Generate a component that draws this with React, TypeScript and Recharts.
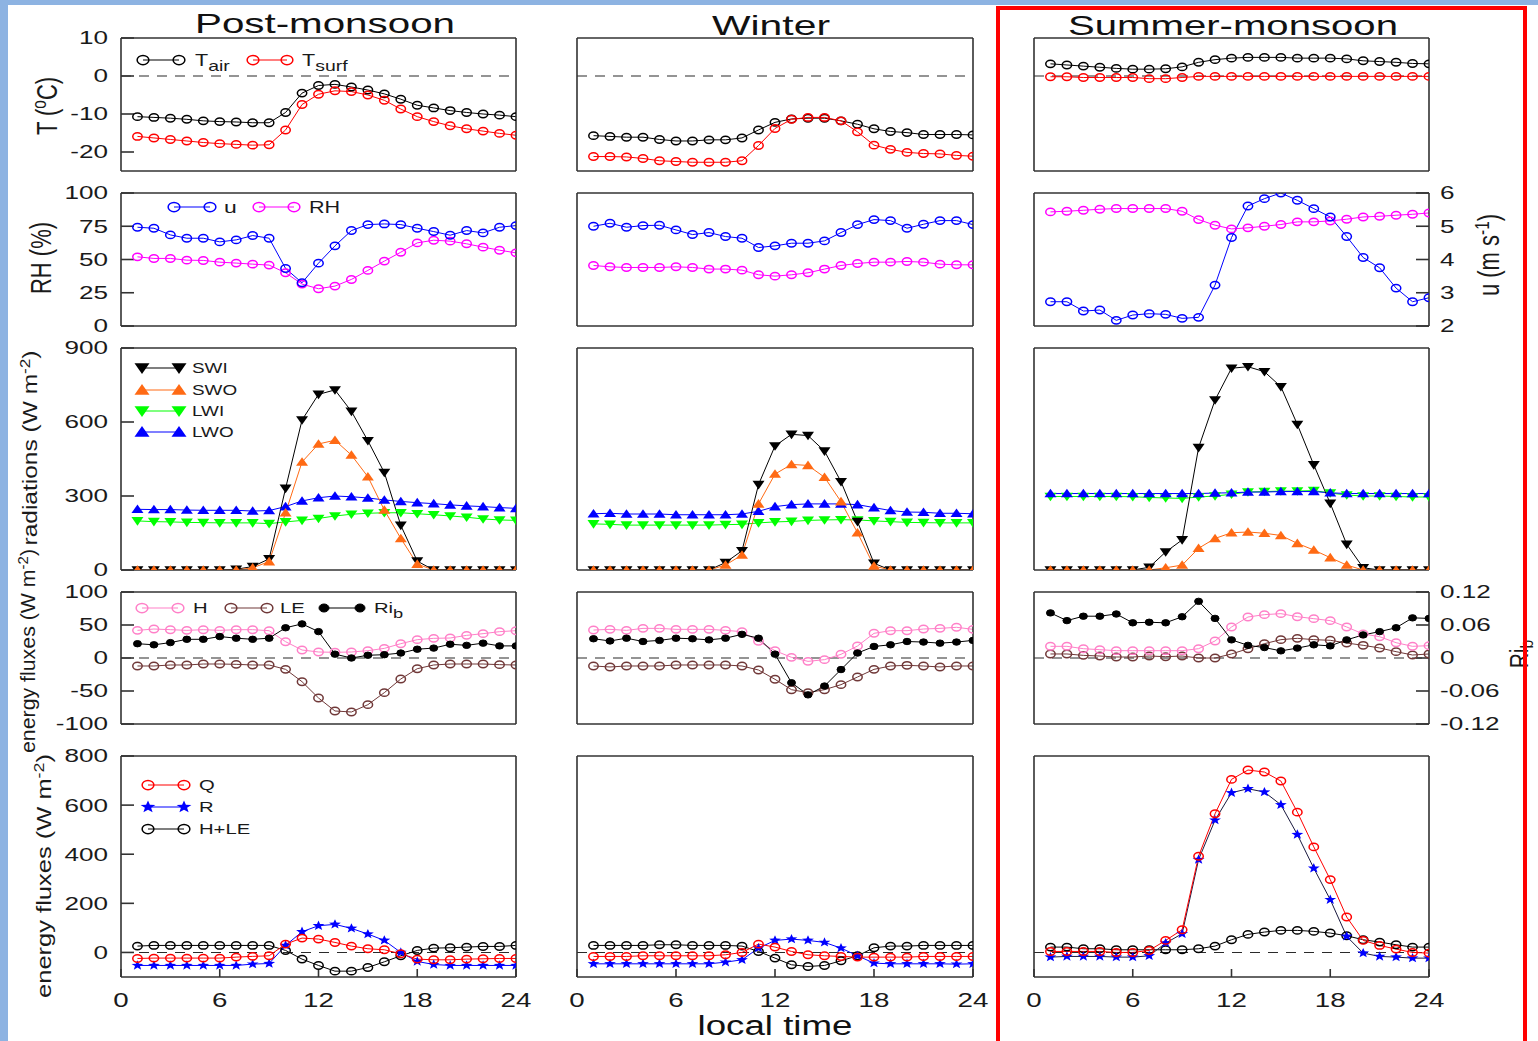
import React from 'react';
import { LineChart, Line, XAxis, YAxis, ReferenceLine } from 'recharts';

const FONT = '"Liberation Sans", Arial, Helvetica, sans-serif';

const HOURS = [1, 2, 3, 4, 5, 6, 7, 8, 9, 10, 11, 12, 13, 14, 15, 16, 17, 18, 19, 20, 21, 22, 23, 24];
const TITLES = ['Post-monsoon', 'Winter', 'Summer-monsoon'];

// ---- Post-monsoon ----
const PM_TAIR = [-10.7, -10.9, -11.1, -11.4, -11.8, -12.0, -12.1, -12.3, -12.3, -9.6, -4.5, -2.5, -2.2, -2.9, -3.7, -4.7, -6.1, -7.7, -8.4, -9.1, -9.6, -10.0, -10.3, -10.7];
const PM_TSURF = [-15.9, -16.3, -16.7, -17.1, -17.5, -17.8, -18.0, -18.2, -18.1, -14.2, -7.5, -4.8, -3.9, -4.1, -5.0, -6.4, -8.7, -10.7, -12.0, -13.1, -13.9, -14.5, -15.1, -15.6];
const PM_U = [4.97, 4.94, 4.74, 4.64, 4.64, 4.53, 4.59, 4.72, 4.64, 3.73, 3.3, 3.89, 4.41, 4.87, 5.05, 5.07, 5.05, 4.94, 4.84, 4.73, 4.87, 4.8, 4.97, 5.02];
const PM_RH = [52, 50.8, 50.8, 49.5, 49.3, 48, 47.3, 46.5, 45.8, 40, 31.5, 28, 30, 35, 41.8, 48.8, 55.5, 62.5, 64.5, 63.8, 61.8, 59.3, 57, 55];
const PM_SWI = [0, 0, 0, 0, 0, 0, 3, 14, 45, 331, 608, 712, 730, 643, 524, 395, 181, 36, 0, 0, 0, 0, 0, 0];
const PM_SWO = [0, 0, 0, 0, 0, 0, 0, 9, 34, 232, 438, 511, 526, 466, 378, 243, 128, 24, 0, 0, 0, 0, 0, 0];
const PM_LWI = [199, 196, 195, 193, 192, 191, 191, 191, 188, 195, 201, 209, 219, 226, 230, 232, 232, 228, 224, 219, 214, 207, 203, 201];
const PM_LWO = [246, 245, 245, 243, 242, 242, 242, 239, 241, 257, 280, 293, 300, 297, 292, 284, 278, 273, 269, 264, 260, 257, 253, 250];
const PM_H = [41.9, 43.9, 42.9, 41.9, 42.9, 41.9, 42.9, 42.9, 41.4, 24.7, 12.1, 9.1, 8.6, 9.1, 11.1, 14.6, 21.7, 27.8, 29.8, 30.3, 34.3, 36.9, 39.9, 41.4];
const PM_LE = [-12.1, -12.1, -10.6, -10.6, -9.1, -9.1, -9.6, -10.6, -10.6, -17.2, -35.9, -60.6, -80.3, -81.8, -70.7, -52.5, -31.8, -16.2, -10.6, -9.1, -9.1, -9.1, -10.1, -10.6];
const PM_RIB = [0.026, 0.024, 0.028, 0.034, 0.034, 0.039, 0.036, 0.034, 0.036, 0.055, 0.062, 0.048, 0.007, 0.0, 0.005, 0.006, 0.009, 0.016, 0.018, 0.025, 0.023, 0.027, 0.022, 0.022];
const PM_Q = [-24.5, -23, -23, -23, -23, -23, -19, -16, -13.6, 34, 58.5, 54.4, 40.8, 25.9, 15, 10.9, -5.4, -27.2, -30, -30, -27.2, -25.9, -24.5, -24.5];
const PM_R = [-53, -53, -53, -53, -53, -53, -53, -47.6, -45, 28.6, 84.4, 108.8, 114.3, 98, 74.8, 49, 0, -36.7, -49, -53, -53, -53, -53, -53];
const PM_HLE = [25.9, 28.6, 28.6, 28.6, 28.6, 28.6, 28.6, 28.6, 28.6, 8.2, -27.2, -53, -76.2, -76.2, -61.2, -38.1, -13.6, 8.2, 17.7, 19, 21.8, 24.5, 24.5, 28.6];

// ---- Winter ----
const W_TAIR = [-15.7, -15.9, -16.1, -16.1, -16.7, -17.1, -17.1, -16.8, -16.8, -16.3, -14.2, -12.2, -11.3, -11.1, -11.1, -11.8, -12.7, -13.9, -14.6, -14.9, -15.4, -15.4, -15.4, -15.5];
const W_TSURF = [-21.2, -21.2, -21.3, -21.7, -22.3, -22.5, -22.7, -22.7, -22.7, -22.3, -18.3, -13.8, -11.4, -10.9, -10.9, -11.8, -14.7, -18.2, -19.3, -20.1, -20.4, -20.5, -20.9, -21.1];
const W_U = [5.0, 5.09, 4.97, 5.02, 5.03, 4.89, 4.75, 4.81, 4.69, 4.64, 4.36, 4.41, 4.49, 4.49, 4.56, 4.81, 5.05, 5.2, 5.17, 4.94, 5.06, 5.17, 5.17, 5.05];
const W_RH = [45.5, 44.5, 44, 44, 44, 44.5, 44, 42.8, 42.8, 42, 38.5, 37.5, 38.5, 40, 42.8, 45.5, 47, 48, 48, 48.5, 48, 46.5, 46, 46];
const W_SWI = [0, 0, 0, 0, 0, 0, 0, 0, 30, 78, 346, 503, 550, 545, 482, 358, 196, 27, 0, 0, 0, 0, 0, 0];
const W_SWO = [0, 0, 0, 0, 0, 0, 0, 0, 20, 61, 268, 389, 428, 424, 376, 277, 151, 16, 0, 0, 0, 0, 0, 0];
const W_LWI = [187, 185, 182, 182, 182, 182, 182, 182, 184, 185, 191, 195, 197, 201, 203, 204, 203, 199, 196, 193, 192, 191, 191, 191];
const W_LWO = [228, 230, 227, 227, 227, 224, 224, 224, 224, 227, 238, 257, 265, 268, 268, 268, 265, 253, 241, 235, 234, 230, 230, 228];
const W_H = [42.4, 43.4, 41.9, 44.9, 44.9, 43.4, 43.4, 43.4, 41.9, 39.9, 25.3, 11.1, 1.0, -5.1, -2.5, 5.6, 18.2, 37.4, 41.4, 41.4, 43.9, 44.9, 46.5, 43.4];
const W_LE = [-12.1, -13.6, -12.1, -12.1, -12.1, -10.6, -10.6, -10.6, -10.6, -12.1, -18.2, -32.3, -48, -52.5, -48, -40.4, -28.8, -17.2, -12.1, -11.1, -12.1, -13.6, -12.1, -12.1];
const W_RIB = [0.035, 0.031, 0.036, 0.03, 0.032, 0.036, 0.035, 0.033, 0.036, 0.043, 0.036, 0.007, -0.045, -0.067, -0.051, -0.021, 0.009, 0.021, 0.024, 0.03, 0.029, 0.027, 0.029, 0.032];
const W_Q = [-16.3, -16.3, -16.3, -13.6, -13.6, -13.6, -13.6, -13.6, -9.5, 0, 34, 21.8, 4.1, -9.5, -13.6, -16.3, -19, -19, -19, -19, -16.3, -16.3, -16.3, -16.3];
const W_R = [-46.3, -46.3, -46.3, -46.3, -46.3, -46.3, -46.3, -46.3, -39.5, -30, 17.7, 49, 54.4, 49, 40.8, 17.7, -13.6, -43.5, -46.3, -46.3, -46.3, -46.3, -47.6, -46.3];
const W_HLE = [28.6, 28.6, 28.6, 28.6, 31.3, 31.3, 28.6, 28.6, 28.6, 25.9, 4.1, -23.1, -50.3, -57.1, -53, -34, -13.6, 19, 25.9, 25.9, 28.6, 28.6, 28.6, 28.6];

// ---- Summer-monsoon ----
const S_TAIR = [3.2, 2.9, 2.6, 2.3, 2.0, 1.8, 1.8, 1.9, 2.4, 3.6, 4.3, 4.7, 4.9, 4.9, 4.9, 4.7, 4.7, 4.7, 4.5, 4.0, 3.8, 3.6, 3.3, 3.2];
const S_TSURF = [-0.2, -0.2, -0.4, -0.4, -0.4, -0.4, -0.7, -0.7, -0.4, -0.1, -0.1, -0.1, -0.1, -0.1, -0.1, -0.1, -0.1, -0.1, -0.1, -0.1, -0.1, -0.1, -0.1, -0.1];
const S_U = [2.73, 2.73, 2.45, 2.48, 2.17, 2.33, 2.37, 2.35, 2.23, 2.26, 3.23, 4.66, 5.61, 5.83, 6.0, 5.78, 5.53, 5.28, 4.69, 4.06, 3.75, 3.14, 2.73, 2.85];
const S_RH = [85.8, 86.3, 87, 87.8, 88.3, 88.3, 88.3, 88.3, 86.3, 80, 75.8, 73, 73.8, 75, 76.3, 78.3, 78.3, 79, 80.3, 82, 82.5, 83.3, 84, 85];
const S_SWI = [0, 0, 0, 0, 0, 0, 11, 73, 122, 496, 689, 818, 824, 804, 743, 590, 426, 270, 104, 9, 0, 0, 0, 0];
const S_SWO = [0, 0, 0, 0, 0, 0, 0, 9, 20, 88, 128, 151, 154, 149, 140, 108, 81, 50, 20, 0, 0, 0, 0, 0];
const S_LWI = [298, 298, 298, 298, 298, 297, 294, 292, 290, 296, 300, 307, 316, 318, 320, 320, 322, 312, 304, 300, 300, 298, 296, 296];
const S_LWO = [310, 310, 310, 310, 310, 310, 310, 310, 310, 310, 312, 313, 316, 316, 318, 318, 318, 313, 310, 310, 310, 310, 310, 310];
const S_H = [17.7, 17.7, 14.1, 12.6, 11.1, 11.1, 11.1, 11.1, 11.1, 14.1, 25.8, 47, 62.1, 65.7, 67.2, 62.6, 59.6, 56.6, 47, 36.4, 32.3, 23.2, 17.7, 18.7];
const S_LE = [6.1, 6.1, 4.0, 3.0, 1.5, 1.5, 3.0, 2.0, 3.0, 0, 0, 6.1, 14.1, 21.7, 27.8, 29.8, 27.8, 26.8, 22.7, 19.2, 15.2, 9.6, 4.5, 6.1];
const S_RIB = [0.082, 0.068, 0.076, 0.076, 0.08, 0.064, 0.065, 0.064, 0.075, 0.103, 0.072, 0.033, 0.023, 0.019, 0.013, 0.018, 0.024, 0.022, 0.033, 0.042, 0.048, 0.055, 0.073, 0.072];
const S_Q = [4.1, 4.1, 4.1, 4.1, 0, 0, 8.2, 49, 92.5, 391.8, 564.6, 704.8, 742.9, 734.7, 698, 571.4, 429.9, 296.6, 144.2, 49, 28.6, 13.6, 0, -2.7];
const S_R = [-19, -16.3, -16.3, -16.3, -19, -19, -13.6, 38.1, 76.2, 378.2, 538.8, 650.3, 666.7, 653.1, 601.4, 480.3, 342.9, 215, 65.3, -2.7, -16.3, -19, -23.1, -23.1];
const S_HLE = [21.8, 21.8, 15, 15, 10.9, 10.9, 10.9, 10.9, 10.9, 15, 25.9, 51.7, 73.5, 83, 89.8, 89.8, 85.7, 78.9, 68, 51.7, 42.2, 31.3, 21.8, 21.8];

const SEASONS: Record<string, number[]>[] = [
  { tair: PM_TAIR, tsurf: PM_TSURF, u: PM_U, rh: PM_RH, swi: PM_SWI, swo: PM_SWO, lwi: PM_LWI, lwo: PM_LWO, sh: PM_H, le: PM_LE, rib: PM_RIB, q: PM_Q, r: PM_R, hle: PM_HLE },
  { tair: W_TAIR, tsurf: W_TSURF, u: W_U, rh: W_RH, swi: W_SWI, swo: W_SWO, lwi: W_LWI, lwo: W_LWO, sh: W_H, le: W_LE, rib: W_RIB, q: W_Q, r: W_R, hle: W_HLE },
  { tair: S_TAIR, tsurf: S_TSURF, u: S_U, rh: S_RH, swi: S_SWI, swo: S_SWO, lwi: S_LWI, lwo: S_LWO, sh: S_H, le: S_LE, rib: S_RIB, q: S_Q, r: S_R, hle: S_HLE },
];

const BLACK = '#000000', RED = '#ff0000', BLUE = '#0000ff', MAGENTA = '#ff00ff';
const ORANGE = '#ff6a14', GREEN = '#00ff00', PINK = '#ff80c8', BROWN = '#703838';

type Mark = 'o' | 'f' | 'up' | 'dn' | 'star';
type Spec = { key: string; color: string; mark: Mark; axis: 'l' | 'r' };

const ROW_SERIES: Spec[][] = [
  [{ key: 'tair', color: BLACK, mark: 'o', axis: 'l' }, { key: 'tsurf', color: RED, mark: 'o', axis: 'l' }],
  [{ key: 'rh', color: MAGENTA, mark: 'o', axis: 'l' }, { key: 'u', color: BLUE, mark: 'o', axis: 'r' }],
  [{ key: 'lwi', color: GREEN, mark: 'dn', axis: 'l' }, { key: 'lwo', color: BLUE, mark: 'up', axis: 'l' }, { key: 'swi', color: BLACK, mark: 'dn', axis: 'l' }, { key: 'swo', color: ORANGE, mark: 'up', axis: 'l' }],
  [{ key: 'le', color: BROWN, mark: 'o', axis: 'l' }, { key: 'sh', color: PINK, mark: 'o', axis: 'l' }, { key: 'rib', color: BLACK, mark: 'f', axis: 'r' }],
  [{ key: 'hle', color: BLACK, mark: 'o', axis: 'l' }, { key: 'r', color: BLUE, mark: 'star', axis: 'l' }, { key: 'q', color: RED, mark: 'o', axis: 'l' }],
];

// the R line is drawn dark in the summer panel
const LINE_OVERRIDE: Record<number, Record<string, string>> = { 2: { r: '#1a1a40' } };

const COLS = [{ left: 121, right: 516 }, { left: 577, right: 973 }, { left: 1034, right: 1429 }];
const ROWS = [
  { top: 38, bottom: 171, dom: [-25, 10], ticks: [-20, -10, 0, 10], zero: true, rDom: null, rTicks: null },
  { top: 193, bottom: 326, dom: [0, 100], ticks: [0, 25, 50, 75, 100], zero: false, rDom: [2, 6], rTicks: [2, 3, 4, 5, 6] },
  { top: 348, bottom: 570, dom: [0, 900], ticks: [0, 300, 600, 900], zero: false, rDom: null, rTicks: null },
  { top: 592, bottom: 724, dom: [-100, 100], ticks: [-100, -50, 0, 50, 100], zero: true, rDom: [-0.12, 0.12], rTicks: [-0.12, -0.06, 0, 0.06, 0.12] },
  { top: 756, bottom: 977, dom: [-100, 800], ticks: [0, 200, 400, 600, 800], zero: true, rDom: null, rTicks: null },
];

const PADL = 80, PADR = 90, PADT = 12, PADB = 45;
const AX = { stroke: '#333333', strokeWidth: 1.6 };

function starPts(cx: number, cy: number, R: number, sx: number) {
  const pts: string[] = [];
  for (let k = 0; k < 10; k++) {
    const a = -Math.PI / 2 + (k * Math.PI) / 5;
    const r = k % 2 === 0 ? R : R * 0.42;
    pts.push(`${(cx + r * Math.cos(a) * sx).toFixed(1)},${(cy + r * Math.sin(a)).toFixed(1)}`);
  }
  return pts.join(' ');
}

function Marker({ kind, cx, cy, color, big }: { kind: Mark; cx: number; cy: number; color: string; big?: boolean }) {
  const k = big ? 1.25 : 1;
  if (cx == null || cy == null || isNaN(cx) || isNaN(cy)) return null;
  switch (kind) {
    case 'o':
      return <ellipse cx={cx} cy={cy} rx={4.7 * k} ry={3.7 * k} fill="none" stroke={color} strokeWidth={1.5} />;
    case 'f':
      return <ellipse cx={cx} cy={cy} rx={4 * k} ry={3.2 * k} fill={color} stroke={color} strokeWidth={1} />;
    case 'up':
      return <polygon points={`${cx - 6 * k},${cy + 3.8 * k} ${cx + 6 * k},${cy + 3.8 * k} ${cx},${cy - 4.8 * k}`} fill={color} />;
    case 'dn':
      return <polygon points={`${cx - 6 * k},${cy - 3.8 * k} ${cx + 6 * k},${cy - 3.8 * k} ${cx},${cy + 4.8 * k}`} fill={color} />;
    default:
      return <polygon points={starPts(cx, cy, 5.2 * k, 1.2)} fill={color} />;
  }
}

const YTickL = (p: any) => (
  <text transform={`translate(${p.x},${p.y}) scale(1.45,1)`} textAnchor="end" dy="0.36em" fontSize={18} fontFamily={FONT} fill="#1a1a1a">
    {p.payload.value}
  </text>
);
const YTickR = (p: any) => (
  <text transform={`translate(${p.x},${p.y}) scale(1.45,1)`} textAnchor="start" dy="0.36em" fontSize={18} fontFamily={FONT} fill="#1a1a1a">
    {p.payload.value}
  </text>
);
const XTick = (p: any) => (
  <text transform={`translate(${p.x},${p.y + 30}) scale(1.32,1)`} textAnchor="middle" fontSize={21} fontFamily={FONT} fill="#1a1a1a">
    {p.payload.value}
  </text>
);

function Panel({ col, row }: { col: number; row: number }) {
  const C = COLS[col];
  const R = ROWS[row];
  const pw = C.right - C.left;
  const ph = R.bottom - R.top;
  const season = SEASONS[col];
  const series = ROW_SERIES[row];
  const data = HOURS.map((hr, i) => {
    const o: Record<string, number> = { hr };
    series.forEach((sp) => {
      o[sp.key] = season[sp.key][i];
    });
    return o;
  });
  const rDom = R.rDom || R.dom;
  const rTicks = R.rTicks || R.ticks;
  const showRight = col === 2 && R.rDom != null;
  return (
    <div style={{ position: 'absolute', left: C.left - PADL, top: R.top - PADT }}>
      <LineChart width={pw + PADL + PADR} height={ph + PADT + PADB} data={data} margin={{ top: 0, right: 0, bottom: 0, left: 0 }}>
        <XAxis xAxisId="b" type="number" dataKey="hr" domain={[0, 24]} allowDataOverflow ticks={[0, 6, 12, 18, 24]} interval={0}
          height={PADB} tickSize={-8} tickMargin={8} tick={row === 4 ? XTick : false} axisLine={AX} tickLine={AX} />
        <XAxis xAxisId="t" orientation="top" type="number" dataKey="hr" domain={[0, 24]} allowDataOverflow ticks={[0, 6, 12, 18, 24]} interval={0}
          height={PADT} tickSize={-8} tick={false} axisLine={AX} tickLine={AX} />
        <YAxis yAxisId="l" type="number" domain={R.dom} allowDataOverflow ticks={R.ticks} interval={0} width={PADL}
          tickSize={-13} tickMargin={26} tick={col === 0 ? YTickL : false} axisLine={AX} tickLine={AX} />
        <YAxis yAxisId="r" orientation="right" type="number" domain={rDom} allowDataOverflow ticks={rTicks} interval={0} width={PADR}
          tickSize={-13} tickMargin={24} tick={showRight ? YTickR : false} axisLine={AX} tickLine={AX} />
        {R.zero && <ReferenceLine xAxisId="b" yAxisId="l" y={0} stroke="#2a2a2a" strokeWidth={1.1} strokeDasharray="10 8" />}
        {series.map((sp) => (
          <Line
            key={sp.key}
            xAxisId="b"
            yAxisId={sp.axis}
            type="linear"
            dataKey={sp.key}
            stroke={(LINE_OVERRIDE[col] && LINE_OVERRIDE[col][sp.key]) || sp.color}
            strokeWidth={1}
            isAnimationActive={false}
            activeDot={false}
            dot={(p: any) => <Marker key={`${sp.key}-${p.index}`} kind={sp.mark} cx={p.cx} cy={p.cy} color={sp.color} />}
          />
        ))}
      </LineChart>
    </div>
  );
}

function LegItem({ x1, x2, y, color, kind, label, sub, tx, fs }: any) {
  return (
    <g>
      <line x1={x1} x2={x2} y1={y} y2={y} stroke={color} strokeWidth={1.2} />
      <Marker kind={kind} cx={x1} cy={y} color={color} big />
      <Marker kind={kind} cx={x2} cy={y} color={color} big />
      <text transform={`translate(${tx},${y + fs * 0.36}) scale(1.35,1)`} fontSize={fs} fontFamily={FONT} fill="#1a1a1a">
        {label}
        {sub && (
          <tspan dy={5} fontSize={fs * 0.9}>
            {sub}
          </tspan>
        )}
      </text>
    </g>
  );
}

function RotLabel({ x, y, fs, sx, len, children }: any) {
  return (
    <text transform={`translate(${x},${y}) scale(${sx},1) rotate(-90)`} fontSize={fs} fontFamily={FONT} fill="#1a1a1a" textAnchor="middle"
      textLength={len} lengthAdjust={len ? 'spacingAndGlyphs' : undefined}>
      {children}
    </text>
  );
}

function Sup({ t }: { t: string }) {
  return (
    <>
      <tspan dy={-8} fontSize="70%">{t}</tspan>
      <tspan dy={8}>)</tspan>
    </>
  );
}

function Overlay() {
  return (
    <svg width={1538} height={1041} style={{ position: 'absolute', left: 0, top: 0, pointerEvents: 'none' }}>
      {/* titles */}
      <text x={325} y={33} fontSize={28} fontFamily={FONT} textAnchor="middle" textLength={260} lengthAdjust="spacingAndGlyphs" fill="#111">{TITLES[0]}</text>
      <text x={771} y={35} fontSize={28} fontFamily={FONT} textAnchor="middle" textLength={118} lengthAdjust="spacingAndGlyphs" fill="#111">{TITLES[1]}</text>
      <text x={1233} y={35} fontSize={28} fontFamily={FONT} textAnchor="middle" textLength={330} lengthAdjust="spacingAndGlyphs" fill="#111">{TITLES[2]}</text>
      <text x={775} y={1035} fontSize={27} fontFamily={FONT} textAnchor="middle" textLength={155} lengthAdjust="spacingAndGlyphs" fill="#111">local time</text>

      {/* left axis titles */}
      <RotLabel x={57} y={106} fs={22} sx={1.35}>
        T (<tspan dy={-8} fontSize="70%">o</tspan><tspan dy={8}>C)</tspan>
      </RotLabel>
      <RotLabel x={51} y={258} fs={22} sx={1.35}>RH (%)</RotLabel>
      <RotLabel x={37} y={448} fs={22} sx={0.9} len={195}>
        radiations (W m<Sup t="-2" />
      </RotLabel>
      <RotLabel x={35} y={651} fs={22} sx={0.9} len={204}>
        energy fluxes (W m<Sup t="-2" />
      </RotLabel>
      <RotLabel x={51} y={876} fs={22} sx={0.9} len={244}>
        energy fluxes (W m<Sup t="-2" />
      </RotLabel>

      {/* right axis titles */}
      <RotLabel x={1499} y={255} fs={22} sx={1.3}>
        u (m s<Sup t="-1" />
      </RotLabel>
      <text transform="translate(1528,654) scale(1.2,1) rotate(-90)" fontSize={21} fontFamily={FONT} fill="#1a1a1a" textAnchor="middle">
        Ri<tspan dy={4} fontSize="75%">b</tspan>
      </text>

      {/* legends */}
      <LegItem x1={143} x2={179} y={60} color={BLACK} kind="o" label="T" sub="air" tx={195} fs={16} />
      <LegItem x1={253} x2={287} y={60} color={RED} kind="o" label="T" sub="surf" tx={302} fs={16} />
      <LegItem x1={174} x2={210} y={207} color={BLUE} kind="o" label="u" tx={224} fs={17} />
      <LegItem x1={259} x2={294} y={207} color={MAGENTA} kind="o" label="RH" tx={309} fs={16} />
      <LegItem x1={142} x2={179} y={368} color={BLACK} kind="dn" label="SWI" tx={192} fs={14} />
      <LegItem x1={142} x2={179} y={390} color={ORANGE} kind="up" label="SWO" tx={192} fs={14} />
      <LegItem x1={142} x2={179} y={411} color={GREEN} kind="dn" label="LWI" tx={192} fs={14} />
      <LegItem x1={142} x2={179} y={432} color={BLUE} kind="up" label="LWO" tx={192} fs={14} />
      <LegItem x1={142} x2={178} y={608} color={PINK} kind="o" label="H" tx={193} fs={15} />
      <LegItem x1={231} x2={267} y={608} color={BROWN} kind="o" label="LE" tx={280} fs={15} />
      <LegItem x1={324} x2={360} y={608} color={BLACK} kind="f" label="Ri" sub="b" tx={374} fs={15} />
      <LegItem x1={148} x2={184} y={785} color={RED} kind="o" label="Q" tx={199} fs={15} />
      <LegItem x1={148} x2={184} y={807} color={BLUE} kind="star" label="R" tx={199} fs={15} />
      <LegItem x1={148} x2={184} y={829} color={BLACK} kind="o" label="H+LE" tx={199} fs={15} />

      {/* highlight box around summer column */}
      <rect x={998} y={8} width={527} height={1100} fill="none" stroke="#ff0000" strokeWidth={4} />
    </svg>
  );
}

export default function App() {
  const panels: React.ReactNode[] = [];
  for (let c = 0; c < 3; c++) {
    for (let r = 0; r < 5; r++) panels.push(<Panel key={`${c}-${r}`} col={c} row={r} />);
  }
  return (
    <div style={{ position: 'absolute', left: 0, top: 0, width: 1538, height: 1041, background: '#8db3e2', overflow: 'hidden' }}>
      <div style={{ position: 'absolute', left: 8, top: 5, width: 1530, height: 1036, background: '#ffffff' }} />
      {panels}
      <Overlay />
    </div>
  );
}
